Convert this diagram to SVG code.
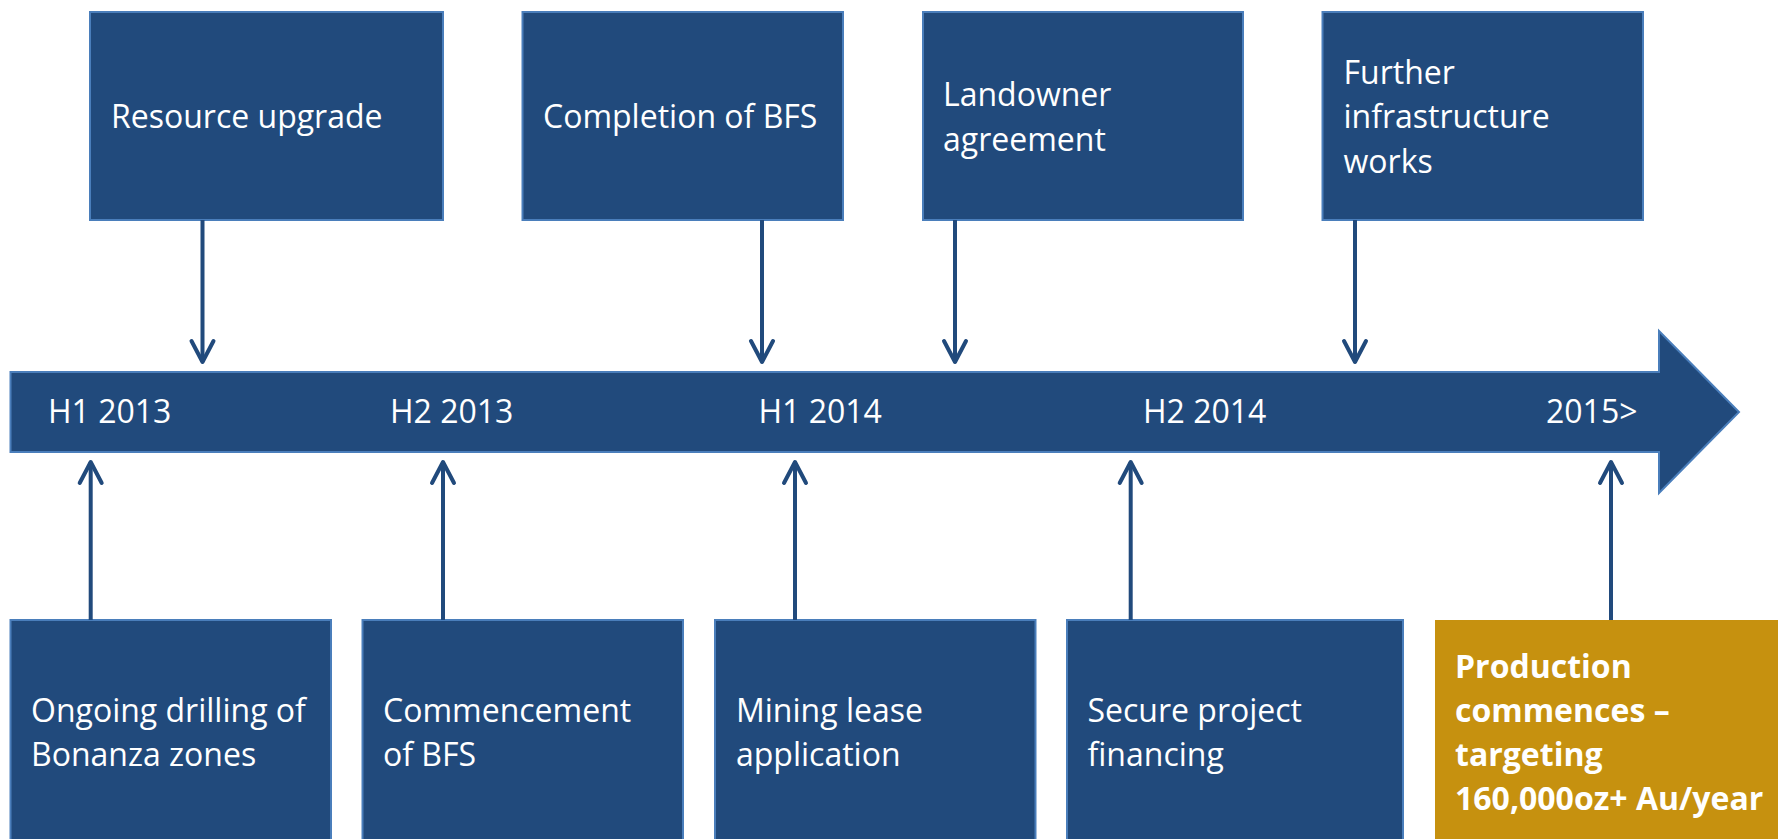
<svg xmlns="http://www.w3.org/2000/svg" width="1778" height="839" viewBox="0 0 1778 839">
  <style>
    .box { fill: #214A7C; stroke: #4A7EBB; stroke-width: 2; }
    .gold { fill: #C6910F; }
    .lbl { font-family: "Open Sans", "Liberation Sans", sans-serif; font-size: 32px; fill: #FFFFFF; }
    .bold { font-weight: bold; }
    .conn { stroke: #214A7C; stroke-width: 4; fill: none; }
  </style>
  <defs>
    <marker id="head" markerUnits="userSpaceOnUse" viewBox="-30 -20 40 40" markerWidth="40" markerHeight="40" refX="0" refY="0" orient="auto" overflow="visible">
      <path d="M-21,-11 L0,0 L-21,11" fill="none" stroke="#214A7C" stroke-width="4" stroke-linecap="round" stroke-linejoin="round"/>
    </marker>
  </defs>
  <rect width="1778" height="839" fill="#FFFFFF"/>

  <!-- timeline arrow -->
  <g id="timeline">
    <polygon class="box" points="10.5,372 1659,372 1659,331 1739,412 1659,493 1659,452 10.5,452"/>
    <text class="lbl" x="48" y="423">H1 2013</text>
    <text class="lbl" x="390" y="423">H2 2013</text>
    <text class="lbl" x="758.5" y="423">H1 2014</text>
    <text class="lbl" x="1143" y="423">H2 2014</text>
    <text class="lbl" x="1546" y="423">2015&gt;</text>
  </g>

  <!-- milestones above the timeline -->
  <g id="resource-upgrade">
    <rect class="box" x="90" y="12" width="353" height="208"/>
    <text class="lbl" x="111" y="128">Resource upgrade</text>
  </g>
  <g id="completion-bfs">
    <rect class="box" x="522.5" y="12" width="320.5" height="208"/>
    <text class="lbl" x="543" y="128">Completion of BFS</text>
  </g>
  <g id="landowner-agreement">
    <rect class="box" x="923" y="12" width="320" height="208"/>
    <text class="lbl" x="943" y="106">Landowner</text>
    <text class="lbl" x="943" y="150.5">agreement</text>
  </g>
  <g id="infrastructure-works">
    <rect class="box" x="1322.5" y="12" width="320.5" height="208"/>
    <text class="lbl" x="1343.5" y="83.5">Further</text>
    <text class="lbl" x="1343.5" y="128">infrastructure</text>
    <text class="lbl" x="1343.5" y="172.5">works</text>
  </g>

  <!-- milestones below the timeline -->
  <g id="ongoing-drilling">
    <rect class="box" x="10.5" y="620" width="320.5" height="240"/>
    <text class="lbl" x="31" y="721.5">Ongoing drilling of</text>
    <text class="lbl" x="31" y="766">Bonanza zones</text>
  </g>
  <g id="commencement-bfs">
    <rect class="box" x="362.5" y="620" width="320.5" height="240"/>
    <text class="lbl" x="383" y="721.5">Commencement</text>
    <text class="lbl" x="383" y="766">of BFS</text>
  </g>
  <g id="mining-lease">
    <rect class="box" x="715" y="620" width="320.5" height="240"/>
    <text class="lbl" x="736" y="721.5">Mining lease</text>
    <text class="lbl" x="736" y="766">application</text>
  </g>
  <g id="project-financing">
    <rect class="box" x="1067" y="620" width="336" height="240"/>
    <text class="lbl" x="1087.5" y="721.5">Secure project</text>
    <text class="lbl" x="1087.5" y="766">financing</text>
  </g>
  <g id="production">
    <rect class="gold" x="1435" y="620" width="360" height="240"/>
    <text class="lbl bold" x="1455" y="678">Production</text>
    <text class="lbl bold" x="1455" y="722">commences –</text>
    <text class="lbl bold" x="1455" y="765.5">targeting</text>
    <text class="lbl bold" x="1455" y="810">160,000oz+ Au/year</text>
  </g>

  <!-- connectors -->
  <g id="connectors">
    <line class="conn" x1="202.5" y1="220" x2="202.5" y2="362" marker-end="url(#head)"/>
    <line class="conn" x1="762" y1="220" x2="762" y2="362" marker-end="url(#head)"/>
    <line class="conn" x1="955" y1="220" x2="955" y2="362" marker-end="url(#head)"/>
    <line class="conn" x1="1355" y1="220" x2="1355" y2="362" marker-end="url(#head)"/>
    <line class="conn" x1="90.7" y1="620" x2="90.7" y2="462" marker-end="url(#head)"/>
    <line class="conn" x1="443" y1="620" x2="443" y2="462" marker-end="url(#head)"/>
    <line class="conn" x1="795" y1="620" x2="795" y2="462" marker-end="url(#head)"/>
    <line class="conn" x1="1130.7" y1="620" x2="1130.7" y2="462" marker-end="url(#head)"/>
    <line class="conn" x1="1611" y1="620" x2="1611" y2="462" marker-end="url(#head)"/>
  </g>
</svg>
